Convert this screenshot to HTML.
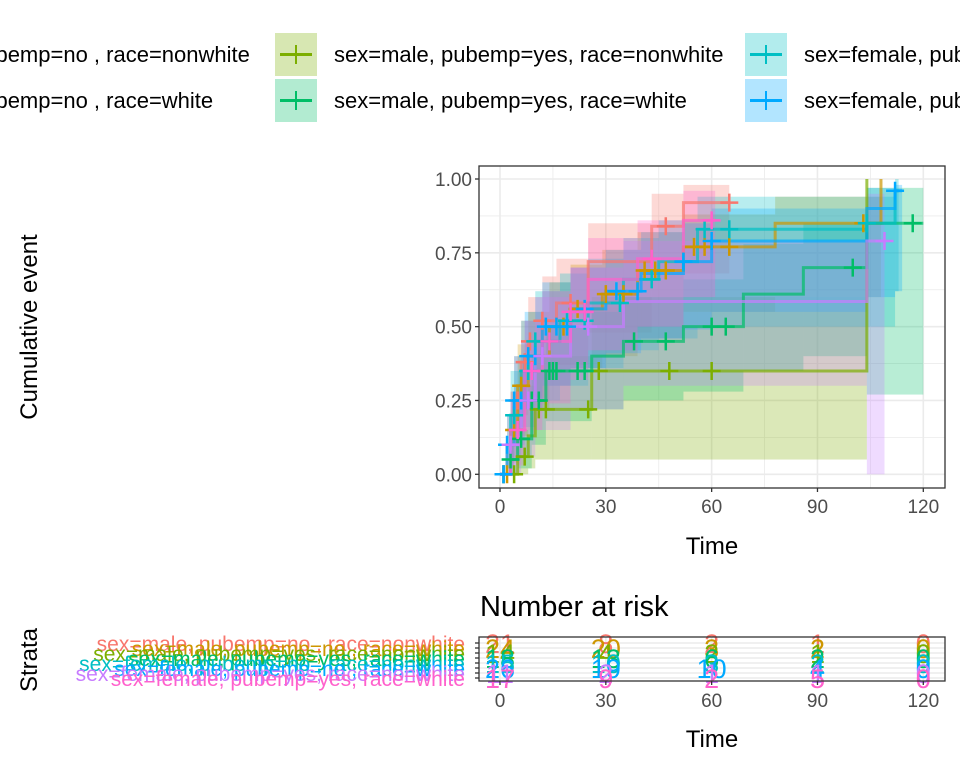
<!DOCTYPE html>
<html><head><meta charset="utf-8">
<style>
html,body{margin:0;padding:0;background:#fff;}
body{width:960px;height:768px;overflow:hidden;font-family:"Liberation Sans",Arial,sans-serif;}
svg text{font-family:"Liberation Sans",Arial,sans-serif;}
</style></head>
<body>
<svg id="chart" width="960" height="768" viewBox="0 0 960 768" xmlns="http://www.w3.org/2000/svg"></svg>
<script>
const groupNames = ["sex=male, pubemp=no , race=nonwhite","sex=male, pubemp=no , race=white","sex=male, pubemp=yes, race=nonwhite","sex=male, pubemp=yes, race=white","sex=female, pubemp=no , race=nonwhite","sex=female, pubemp=no , race=white","sex=female, pubemp=yes, race=nonwhite","sex=female, pubemp=yes, race=white"];
const groupColors = ["#F8766D","#CD9600","#7CAE00","#00BE67","#00BFC4","#00A9FF","#C77CFF","#FF61CC"];
const stepTimes = [
 [0,2,4,6,8,12,16,25,43,52],
 [0,3,5,8,14,20,29,39,52,78,108],
 [0,5,8,10,26,104],
 [0,3,5,9,13,26,35,52,69,86,104],
 [0,3,6,10,17,25,35,45,56,104,112],
 [0,2,4,7,12,20,30,40,52,60,104,112],
 [0,3,6,10,20,35,104],
 [0,3,7,12,20,25,39,52]
];
const stepValues = [
 [0,0.10,0.25,0.38,0.45,0.52,0.58,0.72,0.84,0.92],
 [0,0.15,0.30,0.40,0.50,0.56,0.61,0.69,0.77,0.85,1.00],
 [0,0.06,0.13,0.22,0.35,1.00],
 [0,0.05,0.12,0.25,0.35,0.40,0.45,0.50,0.61,0.70,0.85],
 [0,0.20,0.35,0.45,0.52,0.58,0.66,0.72,0.83,0.85,0.96],
 [0,0.10,0.25,0.40,0.50,0.56,0.62,0.68,0.72,0.79,0.90,0.96],
 [0,0.10,0.25,0.40,0.50,0.585,0.79],
 [0,0.15,0.35,0.45,0.55,0.66,0.73,0.86]
];
const lowerValues = [
 [0,0.02,0.10,0.20,0.26,0.32,0.37,0.48,0.60,0.68],
 [0,0.04,0.13,0.22,0.30,0.36,0.40,0.46,0.55,0.60,0.60],
 [0,0.00,0.02,0.05,0.05,0.05],
 [0,0.00,0.02,0.10,0.18,0.22,0.25,0.28,0.35,0.40,0.27],
 [0,0.05,0.16,0.25,0.30,0.36,0.42,0.46,0.50,0.50,0.62],
 [0,0.02,0.10,0.22,0.30,0.36,0.41,0.46,0.49,0.55,0.60,0.62],
 [0,0.00,0.06,0.15,0.22,0.30,0.00],
 [0,0.03,0.15,0.24,0.32,0.42,0.50,0.60]
];
const upperValues = [
 [0,0.20,0.40,0.52,0.60,0.67,0.73,0.85,0.95,0.98],
 [0,0.28,0.44,0.55,0.65,0.71,0.76,0.82,0.88,0.94,1.00],
 [0,0.15,0.30,0.40,0.60,1.00],
 [0,0.15,0.25,0.40,0.50,0.55,0.60,0.66,0.78,0.85,0.97],
 [0,0.35,0.52,0.62,0.68,0.73,0.80,0.86,0.94,0.94,1.00],
 [0,0.20,0.40,0.55,0.65,0.70,0.76,0.82,0.85,0.90,0.97,0.98],
 [0,0.25,0.45,0.60,0.70,0.79,0.95],
 [0,0.28,0.52,0.62,0.70,0.80,0.86,0.96]
];
const endTimes = [65,108,104,120,113,114,109,61];
const censorTimes = [
 [1,3,5,7,8.5,12,20,47,65],
 [1,2,4,6,10,18,22,30,35,41,44,47,55,58,65,103],
 [4,7,11,13,25,28,48,60],
 [3,6,9,11,14,15,16,22,24,38,47,60,64,100,117],
 [1,4,8,10,14,19,24,34,43,52,58,65,104],
 [1,2,4,6,8,10,13,16,19,24,33,39,52,60,112],
 [3,8,12,25,109],
 [5,9,14,20,24,43,60]
];
const xTicks = [0,30,60,90,120];
const yTicks = [0,0.25,0.5,0.75,1];
const yTickLabels = ["0.00","0.25","0.50","0.75","1.00"];
const riskCounts = [
 [21,8,2,1,0],[24,20,3,2,0],[14,4,2,1,0],[18,13,6,2,0],
 [15,10,3,2,0],[26,19,10,4,0],[11,2,1,1,0],[17,9,2,5,0]
];

const NS="http://www.w3.org/2000/svg";
const svg=document.getElementById('chart');
function mk(tag,attrs,parent){const e=document.createElementNS(NS,tag);for(const k in attrs)e.setAttribute(k,attrs[k]);(parent||svg).appendChild(e);return e;}
const P={l:479,r:945,t:166,b:488};
const xs=t=>500+t*(923.3-500)/120;
const ys=v=>474.3-v*(474.3-179);

// legend
for(let i=0;i<8;i++){
  const col=Math.floor(i/2), row=i%2;
  const kx=-195+col*470, ky=33+row*46;
  const g=mk('g',{});
  
  
  mk('rect',{x:kx,y:ky,width:42,height:43,fill:groupColors[i],'fill-opacity':0.3},g);
  mk('line',{x1:kx+5,x2:kx+37,y1:ky+21.5,y2:ky+21.5,stroke:groupColors[i],'stroke-width':3},g);
  mk('line',{x1:kx+21,x2:kx+21,y1:ky+12,y2:ky+31,stroke:groupColors[i],'stroke-width':2},g);
  const t=mk('text',{x:kx+59,y:ky+29,'font-size':22,fill:'#000','textLength':0},g);t.removeAttribute('textLength');t.textContent=groupNames[i];
}

// main panel
const panel=mk('g',{});


mk('rect',{x:P.l,y:P.t,width:P.r-P.l,height:P.b-P.t,fill:'#fff'},panel);
[15,45,75,105].forEach(t=>mk('line',{x1:xs(t),x2:xs(t),y1:P.t,y2:P.b,stroke:'#ebebeb','stroke-width':0.8},panel));
[0.125,0.375,0.625,0.875].forEach(v=>mk('line',{x1:P.l,x2:P.r,y1:ys(v),y2:ys(v),stroke:'#ebebeb','stroke-width':0.8},panel));
xTicks.forEach(t=>mk('line',{x1:xs(t),x2:xs(t),y1:P.t,y2:P.b,stroke:'#ebebeb','stroke-width':1.6},panel));
yTicks.forEach(v=>mk('line',{x1:P.l,x2:P.r,y1:ys(v),y2:ys(v),stroke:'#ebebeb','stroke-width':1.6},panel));

function stepPath(ti,va,end){
  let d='M'+xs(ti[0])+','+ys(va[0]);
  for(let k=1;k<ti.length;k++){d+=' H'+xs(ti[k])+' V'+ys(va[k]);}
  d+=' H'+xs(end);return d;
}
function valAt(g,t){const ti=stepTimes[g],va=stepValues[g];let v=0;for(let k=0;k<ti.length;k++){if(ti[k]<=t)v=va[k];}return v;}
for(let g=0;g<8;g++){
  const ti=stepTimes[g],lo=lowerValues[g],up=upperValues[g],end=endTimes[g];
  for(let k=0;k<ti.length;k++){
    const t1=ti[k],t2=(k+1<ti.length?ti[k+1]:end);
    if(t2<=t1)continue;
    const r=mk('rect',{x:xs(t1),y:ys(up[k]),width:xs(t2)-xs(t1),height:ys(lo[k])-ys(up[k]),fill:groupColors[g],'fill-opacity':0.28},panel);
    
    
  }
}
for(let g=0;g<8;g++){
  const p=mk('path',{d:stepPath(stepTimes[g],stepValues[g],endTimes[g]),fill:'none',stroke:groupColors[g],'stroke-width':3,'stroke-opacity':0.7},panel);
  
  
}
for(let g=0;g<8;g++){
  censorTimes[g].forEach(t=>{
    const x=xs(t),y=ys(valAt(g,t));
    const c=mk('path',{d:`M${x-9},${y}H${x+9}M${x},${y-9}V${y+9}`,stroke:groupColors[g],'stroke-width':2.5},panel);
    
    
  });
}
mk('rect',{x:P.l,y:P.t,width:P.r-P.l,height:P.b-P.t,fill:'none',stroke:'#333','stroke-width':1.3},panel);
yTicks.forEach((v,i)=>{
  mk('line',{x1:P.l-4,x2:P.l,y1:ys(v),y2:ys(v),stroke:'#333','stroke-width':1.3});
  const t=mk('text',{x:P.l-7,y:ys(v)+7,'text-anchor':'end','font-size':19,fill:'#4d4d4d'});t.textContent=yTickLabels[i];
  
});
xTicks.forEach(v=>{
  mk('line',{x1:xs(v),x2:xs(v),y1:P.b,y2:P.b+4,stroke:'#333','stroke-width':1.3});
  const t=mk('text',{x:xs(v),y:P.b+25,'text-anchor':'middle','font-size':19,fill:'#4d4d4d'});t.textContent=v;
  
});
let tt=mk('text',{x:712,y:554,'text-anchor':'middle','font-size':24,fill:'#000'});tt.textContent='Time';

tt=mk('text',{x:37,y:327,'text-anchor':'middle','font-size':24,fill:'#000',transform:'rotate(-90 37 327)'});tt.textContent='Cumulative event';


// risk table
const R={l:479,r:945,t:637,b:681};
tt=mk('text',{x:480,y:616,'font-size':29,fill:'#000'});tt.textContent='Number at risk';

const rt=mk('g',{});


mk('rect',{x:R.l,y:R.t,width:R.r-R.l,height:R.b-R.t,fill:'#fff'},rt);
const rowY=i=>R.t+6+i*5;
for(let i=0;i<8;i++)mk('line',{x1:R.l,x2:R.r,y1:rowY(i),y2:rowY(i),stroke:'#ebebeb','stroke-width':1.6},rt);
xTicks.forEach(v=>mk('line',{x1:xs(v),x2:xs(v),y1:R.t,y2:R.b,stroke:'#ebebeb','stroke-width':1.6},rt));
for(let g=0;g<8;g++){
  riskCounts[g].forEach((n,k)=>{
    const t=mk('text',{x:xs(xTicks[k]),y:rowY(g)+10,'text-anchor':'middle','font-size':27,fill:groupColors[g]},rt);t.textContent=n;
    
  });
  mk('line',{x1:R.l-4,x2:R.l,y1:rowY(g),y2:rowY(g),stroke:'#333','stroke-width':1.3});
  const s=mk('text',{x:R.l-14,y:rowY(g)+8,'text-anchor':'end','font-size':21,fill:groupColors[g]});
  s.textContent=groupNames[g];
  
}
mk('rect',{x:R.l,y:R.t,width:R.r-R.l,height:R.b-R.t,fill:'none',stroke:'#333','stroke-width':1.3},rt);
xTicks.forEach(v=>{
  mk('line',{x1:xs(v),x2:xs(v),y1:R.b,y2:R.b+4,stroke:'#333','stroke-width':1.3});
  const t=mk('text',{x:xs(v),y:R.b+26,'text-anchor':'middle','font-size':19,fill:'#4d4d4d'});t.textContent=v;
  
});
tt=mk('text',{x:712,y:747,'text-anchor':'middle','font-size':24,fill:'#000'});tt.textContent='Time';

tt=mk('text',{x:37,y:660,'text-anchor':'middle','font-size':24,fill:'#000',transform:'rotate(-90 37 660)'});tt.textContent='Strata';

</script>
</body></html>
